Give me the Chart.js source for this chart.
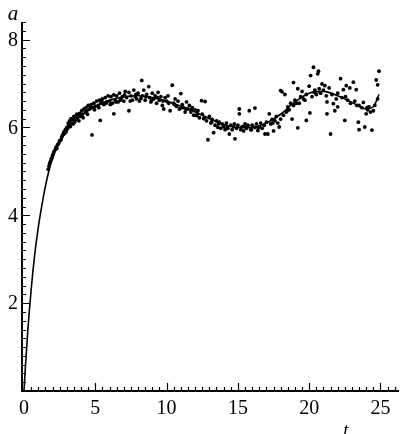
<!DOCTYPE html>
<html>
<head>
<meta charset="utf-8">
<script src="https://cdn.jsdelivr.net/npm/chart.js"></script>
<style>
  html, body { margin: 0; padding: 0; background: #ffffff; }
  canvas { display: block; }
</style>
</head>
<body>
<canvas id="chart" width="403" height="434"></canvas>
<script>
// fitted curve a(t)
const curveT = [0, 0.1, 0.25, 0.5, 0.75, 1, 1.25, 1.5, 1.75, 2, 2.5, 3, 3.5, 4, 5, 6, 7, 8, 9, 10,
    11, 12, 13, 14, 15, 16, 17, 18, 19, 20, 21, 22, 23, 24, 24.5, 24.9];
const curveA = [0, 0.55, 1.3, 2.3, 3.1, 3.72, 4.22, 4.66, 5.02, 5.3, 5.68, 5.93, 6.12, 6.27, 6.48, 6.62, 6.7, 6.72, 6.68, 6.6,
    6.48, 6.35, 6.2, 6.07, 6.0, 6.0, 6.1, 6.3, 6.58, 6.78, 6.82, 6.72, 6.57, 6.42, 6.47, 6.75];

// measured points (t, a)
const pointsT = [1.7, 1.75, 1.8, 1.85, 1.9, 1.95, 2.0, 2.05, 2.1, 2.2, 2.25, 2.3, 2.4, 2.45, 2.5, 2.6, 2.65, 2.7, 2.75, 2.8,
    2.85, 2.9, 3.0, 3.05, 3.1, 3.15, 3.2, 3.3, 3.35, 3.4, 3.5, 3.55, 3.6, 3.7, 3.75, 3.8, 3.9, 4.0, 4.05, 4.1,
    4.2, 4.3, 4.35, 4.4, 4.5, 4.6, 4.7, 4.77, 4.8, 4.9, 5.0, 5.1, 5.2, 5.3, 5.35, 5.4, 5.5, 5.6, 5.7, 5.8,
    5.9, 6.0, 6.1, 6.2, 6.3, 6.3, 6.4, 6.5, 6.6, 6.7, 6.8, 6.9, 7.0, 7.1, 7.2, 7.36, 7.36, 7.5, 7.6, 7.7,
    7.8, 7.9, 8.0, 8.1, 8.26, 8.3, 8.4, 8.5, 8.6, 8.75, 8.8, 8.9, 9.0, 9.1, 9.2, 9.3, 9.4, 9.5, 9.6, 9.7,
    9.8, 9.9, 10.0, 10.1, 10.25, 10.4, 10.5, 10.6, 10.7, 10.8, 10.9, 11.0, 11.1, 11.2, 11.3, 11.4, 11.5, 11.6, 11.7, 11.8,
    11.9, 12.0, 12.1, 12.2, 12.3, 12.45, 12.5, 12.6, 12.7, 12.7, 12.8, 12.9, 13.0, 13.1, 13.2, 13.3, 13.4, 13.5, 13.6, 13.7,
    13.8, 13.9, 14.0, 14.1, 14.2, 14.3, 14.4, 14.5, 14.6, 14.7, 14.8, 14.9, 15.0, 15.1, 15.1, 15.2, 15.3, 15.4, 15.5, 15.6,
    15.7, 15.8, 15.9, 16.0, 16.2, 16.2, 16.3, 16.4, 16.5, 16.6, 16.7, 16.9, 17.0, 17.1, 17.2, 17.3, 17.4, 17.5, 17.6, 17.7,
    17.8, 17.9, 18.0, 18.0, 18.1, 18.2, 18.3, 18.4, 18.5, 18.6, 18.7, 18.8, 18.9, 18.9, 19.0, 19.2, 19.2, 19.3, 19.4, 19.5,
    19.6, 19.8, 19.8, 20.0, 20.05, 20.1, 20.2, 20.3, 20.4, 20.5, 20.6, 20.65, 20.7, 20.8, 20.9, 21.0, 21.1, 21.25, 21.25, 21.4,
    21.5, 21.6, 21.7, 21.8, 22.0, 22.0, 22.2, 22.3, 22.4, 22.5, 22.6, 22.7, 22.85, 22.9, 23.1, 23.2, 23.3, 23.45, 23.5, 23.5,
    23.7, 23.8, 23.9, 24.0, 24.1, 24.2, 24.3, 24.4, 24.5, 24.6, 24.7, 24.8, 24.8, 24.9,
    2.35, 2.95, 3.25, 3.45, 3.65, 3.85, 4.15, 4.45, 4.65, 4.95, 5.25, 5.45, 5.75, 6.05, 6.45, 6.75, 7.05, 7.45, 7.85, 8.2,
    8.55, 8.95, 9.35, 9.75, 10.15, 10.55, 11.05, 11.35, 11.75, 12.15, 13.15, 13.65, 14.25, 14.75, 15.45, 15.95, 16.45, 16.85, 17.45, 18.45,
    19.1, 19.7, 20.35, 21.2, 21.9, 22.55, 23.35, 24.05];
const pointsA = [5.05, 5.12, 5.18, 5.22, 5.28, 5.3, 5.36, 5.4, 5.45, 5.5, 5.55, 5.52, 5.62, 5.65, 5.7, 5.72, 5.78, 5.82, 5.85, 5.9,
    5.86, 5.95, 6.0, 5.97, 6.1, 6.05, 6.15, 6.2, 6.1, 6.18, 6.25, 6.12, 6.22, 6.3, 6.2, 6.28, 6.32, 6.25, 6.38, 6.3,
    6.42, 6.35, 6.45, 6.38, 6.5, 6.42, 6.52, 5.83, 6.45, 6.55, 6.48, 6.6, 6.5, 6.62, 6.16, 6.55, 6.65, 6.52, 6.68, 6.58,
    6.72, 6.6, 6.7, 6.55, 6.31, 6.74, 6.62, 6.72, 6.58, 6.78, 6.65, 6.7, 6.6, 6.82, 6.68, 6.38, 6.8, 6.72, 6.62, 6.85,
    6.7, 6.65, 6.78, 6.6, 7.07, 6.72, 6.85, 6.62, 6.75, 6.93, 6.68, 6.58, 6.78, 6.65, 6.72, 6.55, 6.8, 6.62, 6.7, 6.5,
    6.42, 6.68, 6.6, 6.72, 6.38, 6.96, 6.55, 6.65, 6.48, 6.6, 6.42, 6.77, 6.52, 6.45, 6.35, 6.58, 6.42, 6.5, 6.35, 6.45,
    6.28, 6.4, 6.27, 6.38, 6.22, 6.61, 6.3, 6.2, 6.59, 6.23, 6.15, 5.72, 6.25, 6.1, 6.18, 5.88, 6.05, 6.15, 6.0, 6.12,
    5.98, 6.08, 6.02, 5.95, 6.1, 5.98, 5.85, 6.05, 5.95, 6.02, 5.74, 5.98, 6.05, 6.42, 6.31, 5.95, 6.02, 5.92, 6.08, 5.98,
    6.05, 6.38, 5.95, 6.05, 6.44, 6.0, 6.08, 5.93, 6.02, 6.1, 5.98, 5.85, 6.12, 5.85, 6.31, 6.08, 6.18, 5.92, 6.15, 6.25,
    6.1, 6.01, 6.19, 6.84, 6.81, 6.28, 6.75, 6.35, 6.47, 6.4, 6.55, 6.19, 7.02, 6.5, 6.62, 5.99, 6.88, 6.55, 6.7, 6.82,
    6.65, 6.16, 6.75, 6.94, 6.33, 7.18, 6.7, 7.37, 6.85, 6.75, 7.22, 7.28, 6.88, 6.78, 6.99, 6.85, 6.95, 6.31, 6.58, 6.9,
    5.85, 6.75, 6.54, 6.38, 6.47, 6.78, 7.11, 6.68, 6.86, 6.16, 6.95, 6.62, 6.9, 6.55, 7.03, 6.6, 6.86, 6.12, 5.95, 6.5,
    6.45, 6.57, 6.01, 6.31, 6.4, 6.47, 6.35, 5.94, 6.38, 6.5, 7.08, 6.97, 6.65, 7.28,
    5.6, 5.9, 6.02, 6.08, 6.18, 6.15, 6.22, 6.3, 6.48, 6.4, 6.45, 6.6, 6.55, 6.52, 6.58, 6.62, 6.74, 6.6, 6.75, 6.66,
    6.7, 6.62, 6.68, 6.6, 6.55, 6.52, 6.45, 6.42, 6.4, 6.3, 6.12, 6.08, 6.0, 6.08, 6.02, 5.95, 6.0, 6.05, 6.1, 6.38,
    6.55, 6.62, 6.8, 6.72, 6.65, 6.7, 6.5, 6.45];

// axis ticks
const xTickLabels = [0, 5, 10, 15, 20, 25];
const yTickLabels = [2, 4, 6, 8];

const serif = '"Liberation Serif", "DejaVu Serif", serif';

// draw axes with inward ticks like the printed figure
const axesPlugin = {
    id: 'printedAxes',
    afterDraw(chart) {
        const ctx = chart.ctx;
        const xs = chart.scales.x;
        const ys = chart.scales.y;
        const area = chart.chartArea;
        const x0 = area.left;
        const y0 = area.bottom;

        ctx.save();
        ctx.strokeStyle = '#000';
        ctx.fillStyle = '#000';
        ctx.lineWidth = 2;
        ctx.beginPath();
        ctx.moveTo(x0, area.top);
        ctx.lineTo(x0, y0);
        ctx.lineTo(area.right, y0);
        ctx.stroke();

        ctx.lineWidth = 1.2;
        ctx.beginPath();
        for (let i = 1; i <= 52; i++) {
            const v = i * 0.5;
            const px = Math.round(xs.getPixelForValue(v)) + 0.5;
            const len = (i % 10 === 0) ? 8 : 4;
            ctx.moveTo(px, y0);
            ctx.lineTo(px, y0 - len);
        }
        for (let i = 1; i <= 42; i++) {
            const v = i * 0.2;
            const py = Math.round(ys.getPixelForValue(v)) + 0.5;
            const len = (i % 10 === 0) ? 8 : 4;
            ctx.moveTo(x0, py);
            ctx.lineTo(x0 + len, py);
        }
        ctx.stroke();

        ctx.font = '20px ' + serif;
        ctx.textAlign = 'center';
        ctx.textBaseline = 'middle';
        xTickLabels.forEach(v => {
            ctx.fillText(String(v), xs.getPixelForValue(v), 409);
        });
        ctx.textAlign = 'right';
        yTickLabels.forEach(v => {
            ctx.fillText(String(v), 18, ys.getPixelForValue(v) + 1);
        });

        ctx.font = 'italic 21px ' + serif;
        ctx.textAlign = 'center';
        ctx.fillText('a', 13, 14);
        ctx.font = 'italic 19px ' + serif;
        ctx.fillText('t', 346, 431);
        ctx.restore();
    }
};

new Chart(document.getElementById('chart'), {
    type: 'scatter',
    data: {
        datasets: [{
            type: 'line',
            data: curveT.map((t, i) => ({ x: t, y: curveA[i] })),
            borderColor: '#000',
            borderWidth: 1.6,
            pointRadius: 0,
            fill: false,
            cubicInterpolationMode: 'monotone'
        }, {
            data: pointsT.map((t, i) => ({ x: t, y: pointsA[i] })),
            backgroundColor: '#000',
            borderWidth: 0,
            pointRadius: 1.9
        }]
    },
    options: {
        responsive: false,
        animation: false,
        layout: { padding: { left: 22, top: 22, right: 0, bottom: 43 } },
        plugins: {
            legend: { display: false },
            tooltip: { enabled: false }
        },
        scales: {
            x: { type: 'linear', min: -0.14, max: 26.3, display: false },
            y: { type: 'linear', min: 0, max: 8.4, display: false }
        }
    },
    plugins: [axesPlugin]
});
</script>
</body>
</html>
